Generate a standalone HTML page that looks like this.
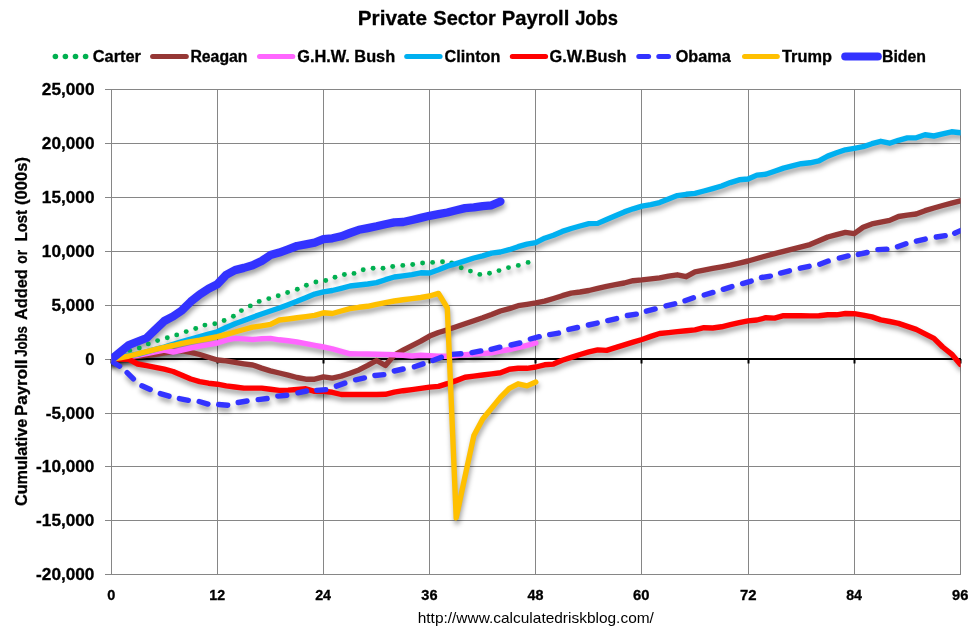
<!DOCTYPE html><html><head><meta charset="utf-8"><title>Private Sector Payroll Jobs</title>
<style>html,body{margin:0;padding:0;background:#fff;}svg{display:block;will-change:transform;}text{font-family:"Liberation Sans",sans-serif;}</style></head><body>
<svg width="976" height="630" viewBox="0 0 976 630">
<defs><filter id="sh" x="-5%" y="-5%" width="110%" height="120%"><feGaussianBlur in="SourceAlpha" stdDeviation="2.6"/><feOffset dx="1.0" dy="3.6" result="b"/><feFlood flood-color="#000" flood-opacity="0.37"/><feComposite in2="b" operator="in"/></filter><clipPath id="plotclip"><rect x="111.2" y="80" width="849.4" height="500"/></clipPath></defs>
<rect width="976" height="630" fill="#fff"/>
<text x="357.76" y="24.8" font-size="20.5" font-weight="bold" fill="#000" stroke="#000" stroke-width="0.3" textLength="69.20" lengthAdjust="spacingAndGlyphs" style="white-space:pre">Private</text>
<text x="433.37" y="24.8" font-size="20.5" font-weight="bold" fill="#000" stroke="#000" stroke-width="0.3" textLength="62.38" lengthAdjust="spacingAndGlyphs" style="white-space:pre">Sector</text>
<text x="501.69" y="24.8" font-size="20.5" font-weight="bold" fill="#000" stroke="#000" stroke-width="0.3" textLength="67.70" lengthAdjust="spacingAndGlyphs" style="white-space:pre">Payroll</text>
<text x="575.17" y="24.8" font-size="20.5" font-weight="bold" fill="#000" stroke="#000" stroke-width="0.3" textLength="42.83" lengthAdjust="spacingAndGlyphs" style="white-space:pre">Jobs</text>
<rect x="105" y="89" width="856" height="1" fill="#868686"/><rect x="105" y="143" width="856" height="1" fill="#868686"/><rect x="105" y="197" width="856" height="1" fill="#868686"/><rect x="105" y="251" width="856" height="1" fill="#868686"/><rect x="105" y="305" width="856" height="1" fill="#868686"/><rect x="105" y="413" width="856" height="1" fill="#868686"/><rect x="105" y="466" width="856" height="1" fill="#868686"/><rect x="105" y="520" width="856" height="1" fill="#868686"/><rect x="105" y="574" width="856" height="1" fill="#868686"/><rect x="105" y="359" width="6" height="1" fill="#868686"/><rect x="111" y="89" width="1" height="486" fill="#868686"/><rect x="217" y="89" width="1" height="486" fill="#868686"/><rect x="323" y="89" width="1" height="486" fill="#868686"/><rect x="429" y="89" width="1" height="486" fill="#868686"/><rect x="535" y="89" width="1" height="486" fill="#868686"/><rect x="641" y="89" width="1" height="486" fill="#868686"/><rect x="748" y="89" width="1" height="486" fill="#868686"/><rect x="854" y="89" width="1" height="486" fill="#868686"/><rect x="960" y="89" width="1" height="486" fill="#868686"/>
<rect x="111" y="358" width="850" height="2" fill="#000"/><rect x="110.5" y="359" width="2" height="4.5" fill="#000"/><rect x="216.5" y="359" width="2" height="4.5" fill="#000"/><rect x="322.5" y="359" width="2" height="4.5" fill="#000"/><rect x="428.5" y="359" width="2" height="4.5" fill="#000"/><rect x="534.5" y="359" width="2" height="4.5" fill="#000"/><rect x="640.5" y="359" width="2" height="4.5" fill="#000"/><rect x="747.5" y="359" width="2" height="4.5" fill="#000"/><rect x="853.5" y="359" width="2" height="4.5" fill="#000"/><rect x="959.5" y="359" width="2" height="4.5" fill="#000"/>
<text x="41.85" y="94.8" font-size="16" font-weight="bold" fill="#000" stroke="#000" stroke-width="0.3" textLength="52.60" lengthAdjust="spacingAndGlyphs" style="white-space:pre">25,000</text>
<text x="41.85" y="148.8" font-size="16" font-weight="bold" fill="#000" stroke="#000" stroke-width="0.3" textLength="52.60" lengthAdjust="spacingAndGlyphs" style="white-space:pre">20,000</text>
<text x="41.86" y="202.8" font-size="16" font-weight="bold" fill="#000" stroke="#000" stroke-width="0.3" textLength="52.60" lengthAdjust="spacingAndGlyphs" style="white-space:pre">15,000</text>
<text x="41.86" y="256.8" font-size="16" font-weight="bold" fill="#000" stroke="#000" stroke-width="0.3" textLength="52.60" lengthAdjust="spacingAndGlyphs" style="white-space:pre">10,000</text>
<text x="51.47" y="310.8" font-size="16" font-weight="bold" fill="#000" stroke="#000" stroke-width="0.3" textLength="42.98" lengthAdjust="spacingAndGlyphs" style="white-space:pre">5,000</text>
<text x="85.16" y="364.8" font-size="16" font-weight="bold" fill="#000" stroke="#000" stroke-width="0.3" textLength="9.27" lengthAdjust="spacingAndGlyphs" style="white-space:pre">0</text>
<text x="45.71" y="418.8" font-size="16" font-weight="bold" fill="#000" stroke="#000" stroke-width="0.3" textLength="48.74" lengthAdjust="spacingAndGlyphs" style="white-space:pre">-5,000</text>
<text x="36.09" y="471.8" font-size="16" font-weight="bold" fill="#000" stroke="#000" stroke-width="0.3" textLength="58.36" lengthAdjust="spacingAndGlyphs" style="white-space:pre">-10,000</text>
<text x="36.09" y="525.8" font-size="16" font-weight="bold" fill="#000" stroke="#000" stroke-width="0.3" textLength="58.36" lengthAdjust="spacingAndGlyphs" style="white-space:pre">-15,000</text>
<text x="36.09" y="579.8" font-size="16" font-weight="bold" fill="#000" stroke="#000" stroke-width="0.3" textLength="58.36" lengthAdjust="spacingAndGlyphs" style="white-space:pre">-20,000</text>
<text x="107.28" y="600" font-size="14.2" font-weight="bold" fill="#000" stroke="#000" stroke-width="0.3" textLength="8.07" lengthAdjust="spacingAndGlyphs" style="white-space:pre">0</text>
<text x="209.26" y="600" font-size="14.2" font-weight="bold" fill="#000" stroke="#000" stroke-width="0.3" textLength="15.76" lengthAdjust="spacingAndGlyphs" style="white-space:pre">12</text>
<text x="315.16" y="600" font-size="14.2" font-weight="bold" fill="#000" stroke="#000" stroke-width="0.3" textLength="15.87" lengthAdjust="spacingAndGlyphs" style="white-space:pre">24</text>
<text x="421.32" y="600" font-size="14.2" font-weight="bold" fill="#000" stroke="#000" stroke-width="0.3" textLength="16.16" lengthAdjust="spacingAndGlyphs" style="white-space:pre">36</text>
<text x="527.43" y="600" font-size="14.2" font-weight="bold" fill="#000" stroke="#000" stroke-width="0.3" textLength="15.96" lengthAdjust="spacingAndGlyphs" style="white-space:pre">48</text>
<text x="633.11" y="600" font-size="14.2" font-weight="bold" fill="#000" stroke="#000" stroke-width="0.3" textLength="16.45" lengthAdjust="spacingAndGlyphs" style="white-space:pre">60</text>
<text x="740.01" y="600" font-size="14.2" font-weight="bold" fill="#000" stroke="#000" stroke-width="0.3" textLength="16.53" lengthAdjust="spacingAndGlyphs" style="white-space:pre">72</text>
<text x="846.20" y="600" font-size="14.2" font-weight="bold" fill="#000" stroke="#000" stroke-width="0.3" textLength="15.83" lengthAdjust="spacingAndGlyphs" style="white-space:pre">84</text>
<text x="952.14" y="600" font-size="14.2" font-weight="bold" fill="#000" stroke="#000" stroke-width="0.3" textLength="16.34" lengthAdjust="spacingAndGlyphs" style="white-space:pre">96</text>
<g transform="translate(27.4,0) rotate(-90)"><text x="-506.01" y="0" font-size="16.3" font-weight="bold" fill="#000" stroke="#000" stroke-width="0.3" textLength="87.22" lengthAdjust="spacingAndGlyphs" style="white-space:pre">Cumulative</text><text x="-415.98" y="0" font-size="16.3" font-weight="bold" fill="#000" stroke="#000" stroke-width="0.3" textLength="56.33" lengthAdjust="spacingAndGlyphs" style="white-space:pre">Payroll</text><text x="-356.85" y="0" font-size="16.3" font-weight="bold" fill="#000" stroke="#000" stroke-width="0.3" textLength="30.74" lengthAdjust="spacingAndGlyphs" style="white-space:pre">Jobs</text><text x="-320.06" y="0" font-size="16.3" font-weight="bold" fill="#000" stroke="#000" stroke-width="0.3" textLength="50.89" lengthAdjust="spacingAndGlyphs" style="white-space:pre">Added</text><text x="-263.69" y="0" font-size="16.3" font-weight="bold" fill="#000" stroke="#000" stroke-width="0.3" textLength="13.74" lengthAdjust="spacingAndGlyphs" style="white-space:pre">or</text><text x="-241.34" y="0" font-size="16.3" font-weight="bold" fill="#000" stroke="#000" stroke-width="0.3" textLength="31.38" lengthAdjust="spacingAndGlyphs" style="white-space:pre">Lost</text><text x="-204.98" y="0" font-size="16.3" font-weight="bold" fill="#000" stroke="#000" stroke-width="0.3" textLength="48.06" lengthAdjust="spacingAndGlyphs" style="white-space:pre">(000s)</text></g>
<text x="417.73" y="623" font-size="15" fill="#000" textLength="236.17" lengthAdjust="spacingAndGlyphs" style="white-space:pre">http://www.calculatedriskblog.com/</text>
<g clip-path="url(#plotclip)">
<g filter="url(#sh)"><g fill="#00B050"><circle cx="120.5" cy="354.5" r="2.45"/><circle cx="129.7" cy="350.4" r="2.45"/><circle cx="139.3" cy="348" r="2.45"/><circle cx="148.3" cy="343.9" r="2.45"/><circle cx="157.6" cy="340.6" r="2.45"/><circle cx="167.3" cy="337.7" r="2.45"/><circle cx="176.7" cy="334.9" r="2.45"/><circle cx="186.2" cy="331.6" r="2.45"/><circle cx="195.7" cy="328.5" r="2.45"/><circle cx="204.9" cy="325.1" r="2.45"/><circle cx="214.8" cy="323.7" r="2.45"/><circle cx="224.1" cy="320.5" r="2.45"/><circle cx="233.4" cy="316.3" r="2.45"/><circle cx="241.4" cy="310.6" r="2.45"/><circle cx="250.3" cy="305.9" r="2.45"/><circle cx="259.2" cy="301.4" r="2.45"/><circle cx="268.8" cy="298.6" r="2.45"/><circle cx="278.2" cy="295.7" r="2.45"/><circle cx="287.6" cy="292.5" r="2.45"/><circle cx="297.3" cy="289.3" r="2.45"/><circle cx="306.4" cy="285.3" r="2.45"/><circle cx="315.9" cy="282" r="2.45"/><circle cx="325.7" cy="280.5" r="2.45"/><circle cx="335" cy="277.3" r="2.45"/><circle cx="344.4" cy="274.5" r="2.45"/><circle cx="354" cy="273.4" r="2.45"/><circle cx="363.2" cy="269.7" r="2.45"/><circle cx="373.1" cy="268.3" r="2.45"/><circle cx="383" cy="268.2" r="2.45"/><circle cx="392.7" cy="266.5" r="2.45"/><circle cx="402.8" cy="265.4" r="2.45"/><circle cx="412.7" cy="264.5" r="2.45"/><circle cx="422.6" cy="263" r="2.45"/><circle cx="432.6" cy="262.4" r="2.45"/><circle cx="442.5" cy="261.8" r="2.45"/><circle cx="451.7" cy="263" r="2.45"/><circle cx="461.2" cy="267.7" r="2.45"/><circle cx="470.4" cy="271.1" r="2.45"/><circle cx="479.8" cy="274.4" r="2.45"/><circle cx="489.5" cy="273.2" r="2.45"/><circle cx="499" cy="270.6" r="2.45"/><circle cx="508.5" cy="267.6" r="2.45"/><circle cx="518.3" cy="265.4" r="2.45"/><circle cx="528.1" cy="262.4" r="2.45"/></g></g><g filter="url(#sh)"><polyline points="111.2,359.0 120.0,358.1 128.9,357.2 137.7,356.3 146.6,355.4 155.4,354.2 164.3,352.9 173.1,351.5 182.0,350.8 190.8,352.3 199.7,354.5 208.5,357.3 217.4,360.0 226.2,360.9 235.0,362.4 243.9,363.8 252.7,365.0 261.6,368.1 270.4,370.8 279.3,373.0 288.1,375.2 297.0,377.5 305.8,379.2 314.7,379.2 323.5,376.8 332.3,378.1 341.2,376.1 350.0,373.3 358.9,369.9 367.7,365.4 376.6,360.5 385.4,365.5 394.3,355.0 403.1,350.2 412.0,345.6 420.8,341.2 429.6,336.1 438.5,332.5 447.3,329.8 456.2,326.8 465.0,323.8 473.9,320.8 482.7,317.8 491.6,314.5 500.4,311.0 509.3,308.6 518.1,305.7 527.0,304.3 535.8,302.9 544.6,301.2 553.5,298.5 562.3,295.7 571.2,293.1 580.0,292.0 588.9,290.5 597.7,288.3 606.6,286.3 615.4,284.6 624.3,283.0 633.1,280.7 642.0,279.9 650.8,278.9 659.6,277.9 668.5,276.2 677.3,274.8 686.2,276.7 695.0,271.8 703.9,270.1 712.7,268.4 721.6,266.8 730.4,265.2 739.3,263.1 748.1,261.0 756.9,258.5 765.8,256.0 774.6,253.6 783.5,251.3 792.3,249.1 801.2,246.9 810.0,244.6 818.9,240.8 827.7,237.0 836.6,234.7 845.4,232.4 854.2,233.6 863.1,227.3 871.9,223.9 880.8,222.1 889.6,220.4 898.5,216.5 907.3,215.1 916.2,214.0 925.0,210.7 933.9,208.0 942.7,205.5 951.6,203.1 960.4,200.8" fill="none" stroke="#953735" stroke-width="5.4" stroke-linejoin="round" stroke-linecap="round"/></g><g filter="url(#sh)"><polyline points="111.2,359.0 120.0,357.8 128.9,356.6 137.7,355.3 146.6,353.7 155.4,351.9 164.3,350.1 173.1,352.0 182.0,350.0 190.8,348.0 199.7,346.2 208.5,344.6 217.4,343.0 226.2,340.2 235.0,338.4 243.9,338.9 252.7,339.5 261.6,338.7 270.4,338.4 279.3,339.8 288.1,340.8 297.0,342.0 305.8,343.7 314.7,345.3 323.5,347.0 332.3,348.9 341.2,351.3 350.0,353.8 358.9,353.9 367.7,354.0 376.6,354.2 385.4,354.5 394.3,354.7 403.1,355.3 412.0,356.0 420.8,355.2 429.6,355.6 438.5,356.2 447.3,356.2 456.2,355.6 465.0,354.7 473.9,354.1 482.7,353.6 491.6,352.8 500.4,351.2 509.3,349.5 518.1,347.7 527.0,345.4 535.8,343.0" fill="none" stroke="#FF66FF" stroke-width="5.4" stroke-linejoin="round" stroke-linecap="round"/></g><g filter="url(#sh)"><polyline points="111.2,359.0 120.0,357.0 128.9,355.5 137.7,354.3 146.6,351.8 155.4,349.4 164.3,347.0 173.1,344.2 182.0,341.5 190.8,339.0 199.7,336.6 208.5,334.2 217.4,331.8 226.2,327.5 235.0,323.8 243.9,320.5 252.7,317.2 261.6,314.0 270.4,311.0 279.3,308.0 288.1,304.7 297.0,301.3 305.8,297.7 314.7,294.1 323.5,291.9 332.3,290.5 341.2,288.3 350.0,286.0 358.9,285.0 367.7,284.0 376.6,282.6 385.4,279.7 394.3,277.0 403.1,275.9 412.0,274.6 420.8,272.8 429.6,273.0 438.5,269.8 447.3,266.2 456.2,263.6 465.0,260.9 473.9,258.0 482.7,255.8 491.6,253.1 500.4,252.0 509.3,249.7 518.1,246.7 527.0,244.2 535.8,242.6 544.6,238.2 553.5,235.2 562.3,231.4 571.2,228.5 580.0,226.0 588.9,223.6 597.7,223.4 606.6,219.5 615.4,215.7 624.3,211.9 633.1,208.8 642.0,206.1 650.8,204.6 659.6,202.6 668.5,199.0 677.3,195.6 686.2,194.3 695.0,193.4 703.9,191.0 712.7,188.6 721.6,186.0 730.4,182.6 739.3,179.8 748.1,179.0 756.9,175.1 765.8,174.3 774.6,171.2 783.5,168.1 792.3,165.9 801.2,163.7 810.0,162.8 818.9,160.8 827.7,156.1 836.6,152.8 845.4,149.8 854.2,148.3 863.1,146.7 871.9,143.7 880.8,141.3 889.6,143.2 898.5,140.3 907.3,137.9 916.2,137.8 925.0,134.8 933.9,136.0 942.7,133.9 951.6,131.8 960.4,132.8" fill="none" stroke="#00B0F0" stroke-width="5.4" stroke-linejoin="round" stroke-linecap="round"/></g><g filter="url(#sh)"><polyline points="111.2,359.0 120.0,359.0 128.9,359.3 137.7,364.0 146.6,365.7 155.4,367.3 164.3,369.2 173.1,371.5 182.0,375.3 190.8,379.0 199.7,381.6 208.5,383.2 217.4,384.2 226.2,385.9 235.0,387.0 243.9,388.1 252.7,388.1 261.6,388.1 270.4,389.3 279.3,390.4 288.1,390.1 297.0,389.5 305.8,388.8 314.7,391.3 323.5,391.3 332.3,392.3 341.2,394.5 350.0,394.5 358.9,394.5 367.7,394.5 376.6,394.5 385.4,394.3 394.3,392.1 403.1,390.7 412.0,389.6 420.8,388.4 429.6,387.1 438.5,386.4 447.3,383.7 456.2,380.6 465.0,377.3 473.9,376.1 482.7,375.0 491.6,373.9 500.4,372.8 509.3,369.3 518.1,368.3 527.0,368.3 535.8,367.0 544.6,364.8 553.5,364.1 562.3,360.3 571.2,357.4 580.0,354.5 588.9,351.9 597.7,349.9 606.6,350.4 615.4,347.6 624.3,344.8 633.1,342.1 642.0,339.5 650.8,336.4 659.6,333.5 668.5,332.6 677.3,331.6 686.2,330.7 695.0,329.9 703.9,327.7 712.7,328.0 721.6,326.8 730.4,324.7 739.3,322.7 748.1,320.9 756.9,320.0 765.8,317.7 774.6,318.1 783.5,315.6 792.3,315.7 801.2,315.8 810.0,315.9 818.9,315.7 827.7,314.8 836.6,314.8 845.4,313.5 854.2,313.7 863.1,315.1 871.9,316.9 880.8,319.9 889.6,321.5 898.5,323.4 907.3,326.4 916.2,329.4 925.0,333.8 933.9,338.3 942.7,347.0 951.6,354.1 960.4,364.5" fill="none" stroke="#FF0000" stroke-width="5.4" stroke-linejoin="round" stroke-linecap="round"/></g><g filter="url(#sh)"><g><polyline points="112.3,361.7 119.6,366.2" fill="none" stroke="#3333FF" stroke-width="5.4" stroke-linecap="round" stroke-linejoin="round"/><polyline points="127.1,372.6 133.4,378.9" fill="none" stroke="#3333FF" stroke-width="5.4" stroke-linecap="round" stroke-linejoin="round"/><polyline points="141.9,385.8 150.2,389.5" fill="none" stroke="#3333FF" stroke-width="5.4" stroke-linecap="round" stroke-linejoin="round"/><polyline points="160.3,393.6 169.0,396.2" fill="none" stroke="#3333FF" stroke-width="5.4" stroke-linecap="round" stroke-linejoin="round"/><polyline points="179.4,398.6 188.3,400.3" fill="none" stroke="#3333FF" stroke-width="5.4" stroke-linecap="round" stroke-linejoin="round"/><polyline points="199.2,401.5 207.9,404.1" fill="none" stroke="#3333FF" stroke-width="5.4" stroke-linecap="round" stroke-linejoin="round"/><polyline points="218.7,404.5 227.7,405.3" fill="none" stroke="#3333FF" stroke-width="5.4" stroke-linecap="round" stroke-linejoin="round"/><polyline points="238.2,402.5 247.0,401.0" fill="none" stroke="#3333FF" stroke-width="5.4" stroke-linecap="round" stroke-linejoin="round"/><polyline points="258.2,399.6 267.1,398.5" fill="none" stroke="#3333FF" stroke-width="5.4" stroke-linecap="round" stroke-linejoin="round"/><polyline points="277.8,396.1 286.7,395.3" fill="none" stroke="#3333FF" stroke-width="5.4" stroke-linecap="round" stroke-linejoin="round"/><polyline points="297.9,392.8 306.6,391.0" fill="none" stroke="#3333FF" stroke-width="5.4" stroke-linecap="round" stroke-linejoin="round"/><polyline points="316.8,390.4 325.8,389.6" fill="none" stroke="#3333FF" stroke-width="5.4" stroke-linecap="round" stroke-linejoin="round"/><polyline points="336.4,386.1 344.8,383.1" fill="none" stroke="#3333FF" stroke-width="5.4" stroke-linecap="round" stroke-linejoin="round"/><polyline points="355.6,379.8 364.4,377.9" fill="none" stroke="#3333FF" stroke-width="5.4" stroke-linecap="round" stroke-linejoin="round"/><polyline points="374.9,375.5 383.8,374.6" fill="none" stroke="#3333FF" stroke-width="5.4" stroke-linecap="round" stroke-linejoin="round"/><polyline points="394.3,371.0 403.1,369.0" fill="none" stroke="#3333FF" stroke-width="5.4" stroke-linecap="round" stroke-linejoin="round"/><polyline points="414.4,366.8 423.0,363.9" fill="none" stroke="#3333FF" stroke-width="5.4" stroke-linecap="round" stroke-linejoin="round"/><polyline points="432.9,360.5 441.4,357.3" fill="none" stroke="#3333FF" stroke-width="5.4" stroke-linecap="round" stroke-linejoin="round"/><polyline points="451.9,354.4 460.9,353.7" fill="none" stroke="#3333FF" stroke-width="5.4" stroke-linecap="round" stroke-linejoin="round"/><polyline points="472.0,352.6 480.8,350.9" fill="none" stroke="#3333FF" stroke-width="5.4" stroke-linecap="round" stroke-linejoin="round"/><polyline points="491.1,349.3 499.8,347.2" fill="none" stroke="#3333FF" stroke-width="5.4" stroke-linecap="round" stroke-linejoin="round"/><polyline points="511.1,345.0 519.8,343.0" fill="none" stroke="#3333FF" stroke-width="5.4" stroke-linecap="round" stroke-linejoin="round"/><polyline points="530.4,339.0 539.2,336.7" fill="none" stroke="#3333FF" stroke-width="5.4" stroke-linecap="round" stroke-linejoin="round"/><polyline points="549.7,334.6 558.5,333.1" fill="none" stroke="#3333FF" stroke-width="5.4" stroke-linecap="round" stroke-linejoin="round"/><polyline points="568.8,329.4 577.5,327.5" fill="none" stroke="#3333FF" stroke-width="5.4" stroke-linecap="round" stroke-linejoin="round"/><polyline points="588.4,325.0 597.2,323.1" fill="none" stroke="#3333FF" stroke-width="5.4" stroke-linecap="round" stroke-linejoin="round"/><polyline points="607.8,320.6 616.6,318.6" fill="none" stroke="#3333FF" stroke-width="5.4" stroke-linecap="round" stroke-linejoin="round"/><polyline points="627.4,315.5 636.3,314.2" fill="none" stroke="#3333FF" stroke-width="5.4" stroke-linecap="round" stroke-linejoin="round"/><polyline points="646.4,311.2 655.1,308.9" fill="none" stroke="#3333FF" stroke-width="5.4" stroke-linecap="round" stroke-linejoin="round"/><polyline points="666.0,305.9 674.7,303.8" fill="none" stroke="#3333FF" stroke-width="5.4" stroke-linecap="round" stroke-linejoin="round"/><polyline points="685.0,300.8 693.4,297.7" fill="none" stroke="#3333FF" stroke-width="5.4" stroke-linecap="round" stroke-linejoin="round"/><polyline points="704.2,295.0 712.9,292.4" fill="none" stroke="#3333FF" stroke-width="5.4" stroke-linecap="round" stroke-linejoin="round"/><polyline points="723.3,289.3 731.9,286.6" fill="none" stroke="#3333FF" stroke-width="5.4" stroke-linecap="round" stroke-linejoin="round"/><polyline points="742.6,283.6 751.2,281.1" fill="none" stroke="#3333FF" stroke-width="5.4" stroke-linecap="round" stroke-linejoin="round"/><polyline points="761.5,277.5 770.4,276.1" fill="none" stroke="#3333FF" stroke-width="5.4" stroke-linecap="round" stroke-linejoin="round"/><polyline points="780.6,273.1 789.4,270.8" fill="none" stroke="#3333FF" stroke-width="5.4" stroke-linecap="round" stroke-linejoin="round"/><polyline points="800.3,268.2 809.1,266.3" fill="none" stroke="#3333FF" stroke-width="5.4" stroke-linecap="round" stroke-linejoin="round"/><polyline points="819.8,264.3 828.2,261.1" fill="none" stroke="#3333FF" stroke-width="5.4" stroke-linecap="round" stroke-linejoin="round"/><polyline points="839.3,258.1 848.1,255.9" fill="none" stroke="#3333FF" stroke-width="5.4" stroke-linecap="round" stroke-linejoin="round"/><polyline points="858.3,254.4 867.1,252.5" fill="none" stroke="#3333FF" stroke-width="5.4" stroke-linecap="round" stroke-linejoin="round"/><polyline points="877.9,249.6 886.9,249.1" fill="none" stroke="#3333FF" stroke-width="5.4" stroke-linecap="round" stroke-linejoin="round"/><polyline points="897.5,246.7 905.9,243.7" fill="none" stroke="#3333FF" stroke-width="5.4" stroke-linecap="round" stroke-linejoin="round"/><polyline points="916.4,241.2 925.2,239.1" fill="none" stroke="#3333FF" stroke-width="5.4" stroke-linecap="round" stroke-linejoin="round"/><polyline points="936.3,237.0 945.2,235.6" fill="none" stroke="#3333FF" stroke-width="5.4" stroke-linecap="round" stroke-linejoin="round"/><polyline points="954.7,233.2 960.4,230.6" fill="none" stroke="#3333FF" stroke-width="5.4" stroke-linecap="round" stroke-linejoin="round"/></g></g><g filter="url(#sh)"><polyline points="111.2,359.0 120.0,357.8 128.9,356.0 137.7,353.8 146.6,351.6 155.4,349.3 164.3,347.4 173.1,345.5 182.0,343.3 190.8,341.7 199.7,340.2 208.5,338.5 217.4,336.6 226.2,334.5 235.0,332.0 243.9,329.5 252.7,327.2 261.6,325.8 270.4,324.4 279.3,320.0 288.1,319.0 297.0,317.8 305.8,316.6 314.7,315.3 323.5,312.8 332.3,313.5 341.2,311.0 350.0,308.7 358.9,307.3 367.7,306.3 376.6,304.3 385.4,302.7 394.3,301.0 403.1,299.8 412.0,298.6 420.8,297.5 429.6,296.0 438.5,293.4 447.3,308.0 456.2,517.8 465.0,476.5 473.9,435.5 482.7,419.0 491.6,408.2 500.4,397.4 509.3,388.3 518.1,383.8 527.0,385.9 535.8,382.0" fill="none" stroke="#FFC000" stroke-width="5.4" stroke-linejoin="round" stroke-linecap="round"/></g><g filter="url(#sh)"><polyline points="111.2,359.3 120.0,352.2 128.9,345.0 137.7,341.5 146.6,338.0 155.4,329.5 164.3,321.0 173.1,316.4 182.0,310.3 190.8,301.6 199.7,294.4 208.5,288.7 217.4,284.2 226.2,274.8 235.0,270.1 243.9,267.9 252.7,265.2 261.6,261.0 270.4,255.1 279.3,252.6 288.1,249.3 297.0,246.0 305.8,244.4 314.7,242.7 323.5,239.2 332.3,238.3 341.2,236.3 350.0,233.0 358.9,229.8 367.7,228.1 376.6,226.3 385.4,224.2 394.3,222.4 403.1,222.0 412.0,220.0 420.8,217.9 429.6,215.8 438.5,214.2 447.3,212.5 456.2,210.3 465.0,208.1 473.9,207.4 482.7,206.1 491.6,205.3 500.4,201.5" fill="none" stroke="#3333FF" stroke-width="8.3" stroke-linejoin="round" stroke-linecap="round"/></g>
<g fill="#00B050"><circle cx="120.5" cy="354.5" r="2.45"/><circle cx="129.7" cy="350.4" r="2.45"/><circle cx="139.3" cy="348" r="2.45"/><circle cx="148.3" cy="343.9" r="2.45"/><circle cx="157.6" cy="340.6" r="2.45"/><circle cx="167.3" cy="337.7" r="2.45"/><circle cx="176.7" cy="334.9" r="2.45"/><circle cx="186.2" cy="331.6" r="2.45"/><circle cx="195.7" cy="328.5" r="2.45"/><circle cx="204.9" cy="325.1" r="2.45"/><circle cx="214.8" cy="323.7" r="2.45"/><circle cx="224.1" cy="320.5" r="2.45"/><circle cx="233.4" cy="316.3" r="2.45"/><circle cx="241.4" cy="310.6" r="2.45"/><circle cx="250.3" cy="305.9" r="2.45"/><circle cx="259.2" cy="301.4" r="2.45"/><circle cx="268.8" cy="298.6" r="2.45"/><circle cx="278.2" cy="295.7" r="2.45"/><circle cx="287.6" cy="292.5" r="2.45"/><circle cx="297.3" cy="289.3" r="2.45"/><circle cx="306.4" cy="285.3" r="2.45"/><circle cx="315.9" cy="282" r="2.45"/><circle cx="325.7" cy="280.5" r="2.45"/><circle cx="335" cy="277.3" r="2.45"/><circle cx="344.4" cy="274.5" r="2.45"/><circle cx="354" cy="273.4" r="2.45"/><circle cx="363.2" cy="269.7" r="2.45"/><circle cx="373.1" cy="268.3" r="2.45"/><circle cx="383" cy="268.2" r="2.45"/><circle cx="392.7" cy="266.5" r="2.45"/><circle cx="402.8" cy="265.4" r="2.45"/><circle cx="412.7" cy="264.5" r="2.45"/><circle cx="422.6" cy="263" r="2.45"/><circle cx="432.6" cy="262.4" r="2.45"/><circle cx="442.5" cy="261.8" r="2.45"/><circle cx="451.7" cy="263" r="2.45"/><circle cx="461.2" cy="267.7" r="2.45"/><circle cx="470.4" cy="271.1" r="2.45"/><circle cx="479.8" cy="274.4" r="2.45"/><circle cx="489.5" cy="273.2" r="2.45"/><circle cx="499" cy="270.6" r="2.45"/><circle cx="508.5" cy="267.6" r="2.45"/><circle cx="518.3" cy="265.4" r="2.45"/><circle cx="528.1" cy="262.4" r="2.45"/></g><polyline points="111.2,359.0 120.0,358.1 128.9,357.2 137.7,356.3 146.6,355.4 155.4,354.2 164.3,352.9 173.1,351.5 182.0,350.8 190.8,352.3 199.7,354.5 208.5,357.3 217.4,360.0 226.2,360.9 235.0,362.4 243.9,363.8 252.7,365.0 261.6,368.1 270.4,370.8 279.3,373.0 288.1,375.2 297.0,377.5 305.8,379.2 314.7,379.2 323.5,376.8 332.3,378.1 341.2,376.1 350.0,373.3 358.9,369.9 367.7,365.4 376.6,360.5 385.4,365.5 394.3,355.0 403.1,350.2 412.0,345.6 420.8,341.2 429.6,336.1 438.5,332.5 447.3,329.8 456.2,326.8 465.0,323.8 473.9,320.8 482.7,317.8 491.6,314.5 500.4,311.0 509.3,308.6 518.1,305.7 527.0,304.3 535.8,302.9 544.6,301.2 553.5,298.5 562.3,295.7 571.2,293.1 580.0,292.0 588.9,290.5 597.7,288.3 606.6,286.3 615.4,284.6 624.3,283.0 633.1,280.7 642.0,279.9 650.8,278.9 659.6,277.9 668.5,276.2 677.3,274.8 686.2,276.7 695.0,271.8 703.9,270.1 712.7,268.4 721.6,266.8 730.4,265.2 739.3,263.1 748.1,261.0 756.9,258.5 765.8,256.0 774.6,253.6 783.5,251.3 792.3,249.1 801.2,246.9 810.0,244.6 818.9,240.8 827.7,237.0 836.6,234.7 845.4,232.4 854.2,233.6 863.1,227.3 871.9,223.9 880.8,222.1 889.6,220.4 898.5,216.5 907.3,215.1 916.2,214.0 925.0,210.7 933.9,208.0 942.7,205.5 951.6,203.1 960.4,200.8" fill="none" stroke="#953735" stroke-width="5.4" stroke-linejoin="round" stroke-linecap="round"/><polyline points="111.2,359.0 120.0,357.8 128.9,356.6 137.7,355.3 146.6,353.7 155.4,351.9 164.3,350.1 173.1,352.0 182.0,350.0 190.8,348.0 199.7,346.2 208.5,344.6 217.4,343.0 226.2,340.2 235.0,338.4 243.9,338.9 252.7,339.5 261.6,338.7 270.4,338.4 279.3,339.8 288.1,340.8 297.0,342.0 305.8,343.7 314.7,345.3 323.5,347.0 332.3,348.9 341.2,351.3 350.0,353.8 358.9,353.9 367.7,354.0 376.6,354.2 385.4,354.5 394.3,354.7 403.1,355.3 412.0,356.0 420.8,355.2 429.6,355.6 438.5,356.2 447.3,356.2 456.2,355.6 465.0,354.7 473.9,354.1 482.7,353.6 491.6,352.8 500.4,351.2 509.3,349.5 518.1,347.7 527.0,345.4 535.8,343.0" fill="none" stroke="#FF66FF" stroke-width="5.4" stroke-linejoin="round" stroke-linecap="round"/><polyline points="111.2,359.0 120.0,357.0 128.9,355.5 137.7,354.3 146.6,351.8 155.4,349.4 164.3,347.0 173.1,344.2 182.0,341.5 190.8,339.0 199.7,336.6 208.5,334.2 217.4,331.8 226.2,327.5 235.0,323.8 243.9,320.5 252.7,317.2 261.6,314.0 270.4,311.0 279.3,308.0 288.1,304.7 297.0,301.3 305.8,297.7 314.7,294.1 323.5,291.9 332.3,290.5 341.2,288.3 350.0,286.0 358.9,285.0 367.7,284.0 376.6,282.6 385.4,279.7 394.3,277.0 403.1,275.9 412.0,274.6 420.8,272.8 429.6,273.0 438.5,269.8 447.3,266.2 456.2,263.6 465.0,260.9 473.9,258.0 482.7,255.8 491.6,253.1 500.4,252.0 509.3,249.7 518.1,246.7 527.0,244.2 535.8,242.6 544.6,238.2 553.5,235.2 562.3,231.4 571.2,228.5 580.0,226.0 588.9,223.6 597.7,223.4 606.6,219.5 615.4,215.7 624.3,211.9 633.1,208.8 642.0,206.1 650.8,204.6 659.6,202.6 668.5,199.0 677.3,195.6 686.2,194.3 695.0,193.4 703.9,191.0 712.7,188.6 721.6,186.0 730.4,182.6 739.3,179.8 748.1,179.0 756.9,175.1 765.8,174.3 774.6,171.2 783.5,168.1 792.3,165.9 801.2,163.7 810.0,162.8 818.9,160.8 827.7,156.1 836.6,152.8 845.4,149.8 854.2,148.3 863.1,146.7 871.9,143.7 880.8,141.3 889.6,143.2 898.5,140.3 907.3,137.9 916.2,137.8 925.0,134.8 933.9,136.0 942.7,133.9 951.6,131.8 960.4,132.8" fill="none" stroke="#00B0F0" stroke-width="5.4" stroke-linejoin="round" stroke-linecap="round"/><polyline points="111.2,359.0 120.0,359.0 128.9,359.3 137.7,364.0 146.6,365.7 155.4,367.3 164.3,369.2 173.1,371.5 182.0,375.3 190.8,379.0 199.7,381.6 208.5,383.2 217.4,384.2 226.2,385.9 235.0,387.0 243.9,388.1 252.7,388.1 261.6,388.1 270.4,389.3 279.3,390.4 288.1,390.1 297.0,389.5 305.8,388.8 314.7,391.3 323.5,391.3 332.3,392.3 341.2,394.5 350.0,394.5 358.9,394.5 367.7,394.5 376.6,394.5 385.4,394.3 394.3,392.1 403.1,390.7 412.0,389.6 420.8,388.4 429.6,387.1 438.5,386.4 447.3,383.7 456.2,380.6 465.0,377.3 473.9,376.1 482.7,375.0 491.6,373.9 500.4,372.8 509.3,369.3 518.1,368.3 527.0,368.3 535.8,367.0 544.6,364.8 553.5,364.1 562.3,360.3 571.2,357.4 580.0,354.5 588.9,351.9 597.7,349.9 606.6,350.4 615.4,347.6 624.3,344.8 633.1,342.1 642.0,339.5 650.8,336.4 659.6,333.5 668.5,332.6 677.3,331.6 686.2,330.7 695.0,329.9 703.9,327.7 712.7,328.0 721.6,326.8 730.4,324.7 739.3,322.7 748.1,320.9 756.9,320.0 765.8,317.7 774.6,318.1 783.5,315.6 792.3,315.7 801.2,315.8 810.0,315.9 818.9,315.7 827.7,314.8 836.6,314.8 845.4,313.5 854.2,313.7 863.1,315.1 871.9,316.9 880.8,319.9 889.6,321.5 898.5,323.4 907.3,326.4 916.2,329.4 925.0,333.8 933.9,338.3 942.7,347.0 951.6,354.1 960.4,364.5" fill="none" stroke="#FF0000" stroke-width="5.4" stroke-linejoin="round" stroke-linecap="round"/><g><polyline points="112.3,361.7 119.6,366.2" fill="none" stroke="#3333FF" stroke-width="5.4" stroke-linecap="round" stroke-linejoin="round"/><polyline points="127.1,372.6 133.4,378.9" fill="none" stroke="#3333FF" stroke-width="5.4" stroke-linecap="round" stroke-linejoin="round"/><polyline points="141.9,385.8 150.2,389.5" fill="none" stroke="#3333FF" stroke-width="5.4" stroke-linecap="round" stroke-linejoin="round"/><polyline points="160.3,393.6 169.0,396.2" fill="none" stroke="#3333FF" stroke-width="5.4" stroke-linecap="round" stroke-linejoin="round"/><polyline points="179.4,398.6 188.3,400.3" fill="none" stroke="#3333FF" stroke-width="5.4" stroke-linecap="round" stroke-linejoin="round"/><polyline points="199.2,401.5 207.9,404.1" fill="none" stroke="#3333FF" stroke-width="5.4" stroke-linecap="round" stroke-linejoin="round"/><polyline points="218.7,404.5 227.7,405.3" fill="none" stroke="#3333FF" stroke-width="5.4" stroke-linecap="round" stroke-linejoin="round"/><polyline points="238.2,402.5 247.0,401.0" fill="none" stroke="#3333FF" stroke-width="5.4" stroke-linecap="round" stroke-linejoin="round"/><polyline points="258.2,399.6 267.1,398.5" fill="none" stroke="#3333FF" stroke-width="5.4" stroke-linecap="round" stroke-linejoin="round"/><polyline points="277.8,396.1 286.7,395.3" fill="none" stroke="#3333FF" stroke-width="5.4" stroke-linecap="round" stroke-linejoin="round"/><polyline points="297.9,392.8 306.6,391.0" fill="none" stroke="#3333FF" stroke-width="5.4" stroke-linecap="round" stroke-linejoin="round"/><polyline points="316.8,390.4 325.8,389.6" fill="none" stroke="#3333FF" stroke-width="5.4" stroke-linecap="round" stroke-linejoin="round"/><polyline points="336.4,386.1 344.8,383.1" fill="none" stroke="#3333FF" stroke-width="5.4" stroke-linecap="round" stroke-linejoin="round"/><polyline points="355.6,379.8 364.4,377.9" fill="none" stroke="#3333FF" stroke-width="5.4" stroke-linecap="round" stroke-linejoin="round"/><polyline points="374.9,375.5 383.8,374.6" fill="none" stroke="#3333FF" stroke-width="5.4" stroke-linecap="round" stroke-linejoin="round"/><polyline points="394.3,371.0 403.1,369.0" fill="none" stroke="#3333FF" stroke-width="5.4" stroke-linecap="round" stroke-linejoin="round"/><polyline points="414.4,366.8 423.0,363.9" fill="none" stroke="#3333FF" stroke-width="5.4" stroke-linecap="round" stroke-linejoin="round"/><polyline points="432.9,360.5 441.4,357.3" fill="none" stroke="#3333FF" stroke-width="5.4" stroke-linecap="round" stroke-linejoin="round"/><polyline points="451.9,354.4 460.9,353.7" fill="none" stroke="#3333FF" stroke-width="5.4" stroke-linecap="round" stroke-linejoin="round"/><polyline points="472.0,352.6 480.8,350.9" fill="none" stroke="#3333FF" stroke-width="5.4" stroke-linecap="round" stroke-linejoin="round"/><polyline points="491.1,349.3 499.8,347.2" fill="none" stroke="#3333FF" stroke-width="5.4" stroke-linecap="round" stroke-linejoin="round"/><polyline points="511.1,345.0 519.8,343.0" fill="none" stroke="#3333FF" stroke-width="5.4" stroke-linecap="round" stroke-linejoin="round"/><polyline points="530.4,339.0 539.2,336.7" fill="none" stroke="#3333FF" stroke-width="5.4" stroke-linecap="round" stroke-linejoin="round"/><polyline points="549.7,334.6 558.5,333.1" fill="none" stroke="#3333FF" stroke-width="5.4" stroke-linecap="round" stroke-linejoin="round"/><polyline points="568.8,329.4 577.5,327.5" fill="none" stroke="#3333FF" stroke-width="5.4" stroke-linecap="round" stroke-linejoin="round"/><polyline points="588.4,325.0 597.2,323.1" fill="none" stroke="#3333FF" stroke-width="5.4" stroke-linecap="round" stroke-linejoin="round"/><polyline points="607.8,320.6 616.6,318.6" fill="none" stroke="#3333FF" stroke-width="5.4" stroke-linecap="round" stroke-linejoin="round"/><polyline points="627.4,315.5 636.3,314.2" fill="none" stroke="#3333FF" stroke-width="5.4" stroke-linecap="round" stroke-linejoin="round"/><polyline points="646.4,311.2 655.1,308.9" fill="none" stroke="#3333FF" stroke-width="5.4" stroke-linecap="round" stroke-linejoin="round"/><polyline points="666.0,305.9 674.7,303.8" fill="none" stroke="#3333FF" stroke-width="5.4" stroke-linecap="round" stroke-linejoin="round"/><polyline points="685.0,300.8 693.4,297.7" fill="none" stroke="#3333FF" stroke-width="5.4" stroke-linecap="round" stroke-linejoin="round"/><polyline points="704.2,295.0 712.9,292.4" fill="none" stroke="#3333FF" stroke-width="5.4" stroke-linecap="round" stroke-linejoin="round"/><polyline points="723.3,289.3 731.9,286.6" fill="none" stroke="#3333FF" stroke-width="5.4" stroke-linecap="round" stroke-linejoin="round"/><polyline points="742.6,283.6 751.2,281.1" fill="none" stroke="#3333FF" stroke-width="5.4" stroke-linecap="round" stroke-linejoin="round"/><polyline points="761.5,277.5 770.4,276.1" fill="none" stroke="#3333FF" stroke-width="5.4" stroke-linecap="round" stroke-linejoin="round"/><polyline points="780.6,273.1 789.4,270.8" fill="none" stroke="#3333FF" stroke-width="5.4" stroke-linecap="round" stroke-linejoin="round"/><polyline points="800.3,268.2 809.1,266.3" fill="none" stroke="#3333FF" stroke-width="5.4" stroke-linecap="round" stroke-linejoin="round"/><polyline points="819.8,264.3 828.2,261.1" fill="none" stroke="#3333FF" stroke-width="5.4" stroke-linecap="round" stroke-linejoin="round"/><polyline points="839.3,258.1 848.1,255.9" fill="none" stroke="#3333FF" stroke-width="5.4" stroke-linecap="round" stroke-linejoin="round"/><polyline points="858.3,254.4 867.1,252.5" fill="none" stroke="#3333FF" stroke-width="5.4" stroke-linecap="round" stroke-linejoin="round"/><polyline points="877.9,249.6 886.9,249.1" fill="none" stroke="#3333FF" stroke-width="5.4" stroke-linecap="round" stroke-linejoin="round"/><polyline points="897.5,246.7 905.9,243.7" fill="none" stroke="#3333FF" stroke-width="5.4" stroke-linecap="round" stroke-linejoin="round"/><polyline points="916.4,241.2 925.2,239.1" fill="none" stroke="#3333FF" stroke-width="5.4" stroke-linecap="round" stroke-linejoin="round"/><polyline points="936.3,237.0 945.2,235.6" fill="none" stroke="#3333FF" stroke-width="5.4" stroke-linecap="round" stroke-linejoin="round"/><polyline points="954.7,233.2 960.4,230.6" fill="none" stroke="#3333FF" stroke-width="5.4" stroke-linecap="round" stroke-linejoin="round"/></g><polyline points="111.2,359.0 120.0,357.8 128.9,356.0 137.7,353.8 146.6,351.6 155.4,349.3 164.3,347.4 173.1,345.5 182.0,343.3 190.8,341.7 199.7,340.2 208.5,338.5 217.4,336.6 226.2,334.5 235.0,332.0 243.9,329.5 252.7,327.2 261.6,325.8 270.4,324.4 279.3,320.0 288.1,319.0 297.0,317.8 305.8,316.6 314.7,315.3 323.5,312.8 332.3,313.5 341.2,311.0 350.0,308.7 358.9,307.3 367.7,306.3 376.6,304.3 385.4,302.7 394.3,301.0 403.1,299.8 412.0,298.6 420.8,297.5 429.6,296.0 438.5,293.4 447.3,308.0 456.2,517.8 465.0,476.5 473.9,435.5 482.7,419.0 491.6,408.2 500.4,397.4 509.3,388.3 518.1,383.8 527.0,385.9 535.8,382.0" fill="none" stroke="#FFC000" stroke-width="5.4" stroke-linejoin="round" stroke-linecap="round"/><polyline points="111.2,359.3 120.0,352.2 128.9,345.0 137.7,341.5 146.6,338.0 155.4,329.5 164.3,321.0 173.1,316.4 182.0,310.3 190.8,301.6 199.7,294.4 208.5,288.7 217.4,284.2 226.2,274.8 235.0,270.1 243.9,267.9 252.7,265.2 261.6,261.0 270.4,255.1 279.3,252.6 288.1,249.3 297.0,246.0 305.8,244.4 314.7,242.7 323.5,239.2 332.3,238.3 341.2,236.3 350.0,233.0 358.9,229.8 367.7,228.1 376.6,226.3 385.4,224.2 394.3,222.4 403.1,222.0 412.0,220.0 420.8,217.9 429.6,215.8 438.5,214.2 447.3,212.5 456.2,210.3 465.0,208.1 473.9,207.4 482.7,206.1 491.6,205.3 500.4,201.5" fill="none" stroke="#3333FF" stroke-width="8.3" stroke-linejoin="round" stroke-linecap="round"/>
</g>
<circle cx="55.4" cy="56.5" r="2.8" fill="#00B050"/><circle cx="65.4" cy="56.5" r="2.8" fill="#00B050"/><circle cx="75.5" cy="56.5" r="2.8" fill="#00B050"/><circle cx="85.6" cy="56.5" r="2.8" fill="#00B050"/><line x1="152.6" y1="56.5" x2="186.3" y2="56.5" stroke="#953735" stroke-width="5" stroke-linecap="round"/><line x1="259.5" y1="56.5" x2="292.8" y2="56.5" stroke="#FF66FF" stroke-width="5" stroke-linecap="round"/><line x1="406.7" y1="56.5" x2="440.1" y2="56.5" stroke="#00B0F0" stroke-width="5" stroke-linecap="round"/><line x1="512.3" y1="56.5" x2="545.6" y2="56.5" stroke="#FF0000" stroke-width="5" stroke-linecap="round"/><line x1="638.8" y1="56.5" x2="648.6" y2="56.5" stroke="#3333FF" stroke-width="5" stroke-linecap="round"/><line x1="658.8" y1="56.5" x2="668.5" y2="56.5" stroke="#3333FF" stroke-width="5" stroke-linecap="round"/><line x1="744.5" y1="56.5" x2="777.3" y2="56.5" stroke="#FFC000" stroke-width="5" stroke-linecap="round"/><line x1="845.2" y1="56.5" x2="877.8" y2="56.5" stroke="#3333FF" stroke-width="8" stroke-linecap="round"/><text x="92.68" y="61.6" font-size="16" font-weight="bold" fill="#000" stroke="#000" stroke-width="0.3" textLength="48.32" lengthAdjust="spacingAndGlyphs" style="white-space:pre">Carter</text><text x="190.39" y="61.6" font-size="16" font-weight="bold" fill="#000" stroke="#000" stroke-width="0.3" textLength="57.14" lengthAdjust="spacingAndGlyphs" style="white-space:pre">Reagan</text><text x="297.19" y="61.6" font-size="16" font-weight="bold" fill="#000" stroke="#000" stroke-width="0.3" textLength="97.97" lengthAdjust="spacingAndGlyphs" style="white-space:pre">G.H.W. Bush</text><text x="444.59" y="61.6" font-size="16" font-weight="bold" fill="#000" stroke="#000" stroke-width="0.3" textLength="55.77" lengthAdjust="spacingAndGlyphs" style="white-space:pre">Clinton</text><text x="549.59" y="61.6" font-size="16" font-weight="bold" fill="#000" stroke="#000" stroke-width="0.3" textLength="76.86" lengthAdjust="spacingAndGlyphs" style="white-space:pre">G.W.Bush</text><text x="675.68" y="61.6" font-size="16" font-weight="bold" fill="#000" stroke="#000" stroke-width="0.3" textLength="55.06" lengthAdjust="spacingAndGlyphs" style="white-space:pre">Obama</text><text x="781.97" y="61.6" font-size="16" font-weight="bold" fill="#000" stroke="#000" stroke-width="0.3" textLength="49.94" lengthAdjust="spacingAndGlyphs" style="white-space:pre">Trump</text><text x="881.99" y="61.6" font-size="16" font-weight="bold" fill="#000" stroke="#000" stroke-width="0.3" textLength="44.04" lengthAdjust="spacingAndGlyphs" style="white-space:pre">Biden</text>
</svg></body></html>
